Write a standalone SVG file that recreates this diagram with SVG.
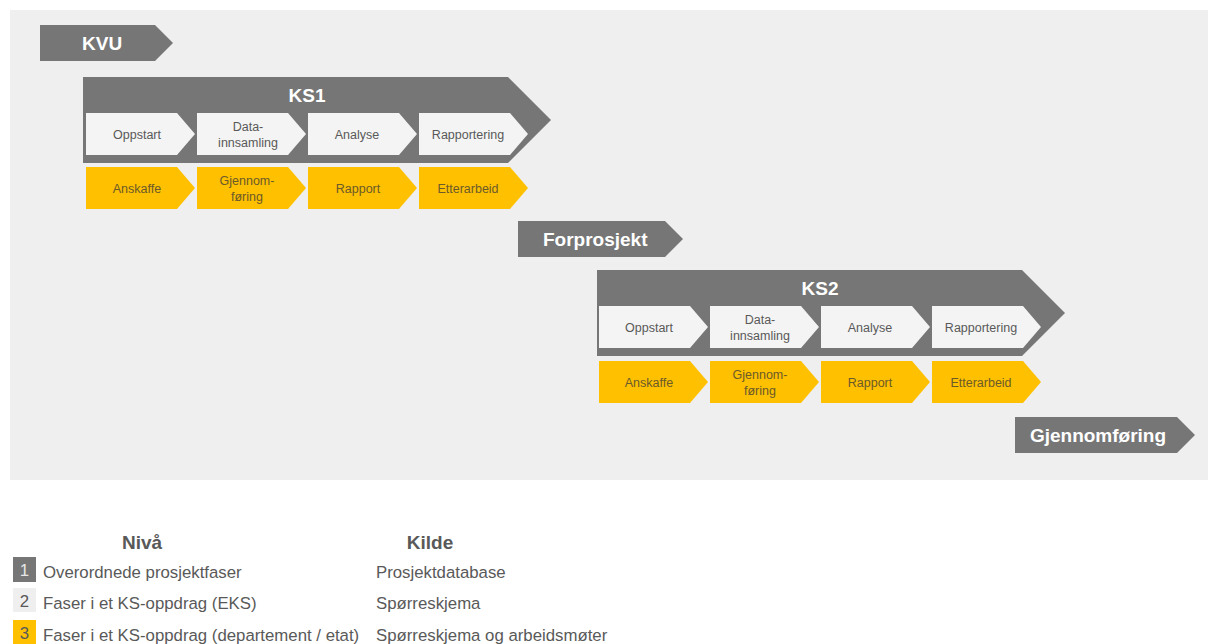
<svg xmlns="http://www.w3.org/2000/svg" width="1208" height="644" viewBox="0 0 1208 644">
<style>
.dk{fill:#767676}
.lt{fill:#f4f4f4}
.yl{fill:#ffc000}
.t{font-family:"Liberation Sans",Arial,sans-serif}
.big{font-size:19px;font-weight:bold;fill:#ffffff}
.sm{font-size:12.5px;fill:#595959;text-anchor:middle}
.ys{font-size:12.5px;fill:#6b5a2a;text-anchor:middle}
.lg{font-size:16.8px;fill:#595959}
.lh{font-size:19px;font-weight:bold;fill:#595959;text-anchor:middle}
</style>
<defs>
<path id="sub" d="M0 0 h91 l18 21 l-18 21 h-91 z"/>
<path id="ks" d="M0 0 h425 l43 43 l-43 43 h-425 z"/>
</defs>
<rect x="10" y="10" width="1198" height="470" fill="#efefef"/>

<g id="kvu">
<path class="dk" d="M40 25 h115 l18 18 l-18 18 h-115 z"/>
<text class="t big" x="82" y="50">KVU</text>
</g>

<g id="ks1">
<use href="#ks" x="83" y="77" class="dk"/>
<text class="t big" x="307" y="102" text-anchor="middle">KS1</text>
<g id="ks1-oppstart"><use href="#sub" x="86" y="113" class="lt"/><text class="t sm" x="137" y="139">Oppstart</text></g>
<g id="ks1-data"><use href="#sub" x="197" y="113" class="lt"/><text class="t sm" x="248" y="131">Data-</text><text class="t sm" x="248" y="147">innsamling</text></g>
<g id="ks1-analyse"><use href="#sub" x="308" y="113" class="lt"/><text class="t sm" x="357" y="139">Analyse</text></g>
<g id="ks1-rapportering"><use href="#sub" x="419" y="113" class="lt"/><text class="t sm" x="468" y="139">Rapportering</text></g>
<g id="ks1-anskaffe"><use href="#sub" x="86" y="167" class="yl"/><text class="t ys" x="137" y="193">Anskaffe</text></g>
<g id="ks1-gjennom"><use href="#sub" x="197" y="167" class="yl"/><text class="t ys" x="247" y="185">Gjennom-</text><text class="t ys" x="247" y="201">føring</text></g>
<g id="ks1-rapport"><use href="#sub" x="308" y="167" class="yl"/><text class="t ys" x="358" y="193">Rapport</text></g>
<g id="ks1-etterarbeid"><use href="#sub" x="419" y="167" class="yl"/><text class="t ys" x="468" y="193">Etterarbeid</text></g>
</g>

<g id="forprosjekt">
<path class="dk" d="M518 221 h147 l18 18 l-18 18 h-147 z"/>
<text class="t big" x="543" y="246">Forprosjekt</text>
</g>

<g id="ks2">
<use href="#ks" x="597" y="270" class="dk"/>
<text class="t big" x="820" y="295" text-anchor="middle">KS2</text>
<g id="ks2-oppstart"><use href="#sub" x="599" y="306" class="lt"/><text class="t sm" x="649" y="332">Oppstart</text></g>
<g id="ks2-data"><use href="#sub" x="710" y="306" class="lt"/><text class="t sm" x="760" y="324">Data-</text><text class="t sm" x="760" y="340">innsamling</text></g>
<g id="ks2-analyse"><use href="#sub" x="821" y="306" class="lt"/><text class="t sm" x="870" y="332">Analyse</text></g>
<g id="ks2-rapportering"><use href="#sub" x="932" y="306" class="lt"/><text class="t sm" x="981" y="332">Rapportering</text></g>
<g id="ks2-anskaffe"><use href="#sub" x="599" y="361" class="yl"/><text class="t ys" x="649" y="387">Anskaffe</text></g>
<g id="ks2-gjennom"><use href="#sub" x="710" y="361" class="yl"/><text class="t ys" x="760" y="379">Gjennom-</text><text class="t ys" x="760" y="395">føring</text></g>
<g id="ks2-rapport"><use href="#sub" x="821" y="361" class="yl"/><text class="t ys" x="870" y="387">Rapport</text></g>
<g id="ks2-etterarbeid"><use href="#sub" x="932" y="361" class="yl"/><text class="t ys" x="981" y="387">Etterarbeid</text></g>
</g>

<g id="gjennomforing">
<path class="dk" d="M1015 417 h162 l18 18 l-18 18 h-162 z"/>
<text class="t big" x="1098" y="442" text-anchor="middle">Gjennomføring</text>
</g>

<g id="legend">
<text class="t lh" x="142" y="549">Nivå</text>
<text class="t lh" x="430" y="549">Kilde</text>
<rect x="13" y="557" width="23" height="25" fill="#767676"/>
<text class="t lg" x="24.5" y="576" text-anchor="middle" style="fill:#e6e6e6">1</text>
<text class="t lg" x="43" y="578">Overordnede prosjektfaser</text>
<text class="t lg" x="376" y="578">Prosjektdatabase</text>
<rect x="13" y="588" width="23" height="24" fill="#efefef"/>
<text class="t lg" x="24.5" y="607" text-anchor="middle">2</text>
<text class="t lg" x="43" y="609">Faser i et KS-oppdrag (EKS)</text>
<text class="t lg" x="376" y="609">Spørreskjema</text>
<rect x="13" y="620" width="23" height="24" fill="#ffc000"/>
<text class="t lg" x="24.5" y="639" text-anchor="middle">3</text>
<text class="t lg" x="43" y="641">Faser i et KS-oppdrag (departement / etat)</text>
<text class="t lg" x="376" y="641">Spørreskjema og arbeidsmøter</text>
</g>
</svg>
